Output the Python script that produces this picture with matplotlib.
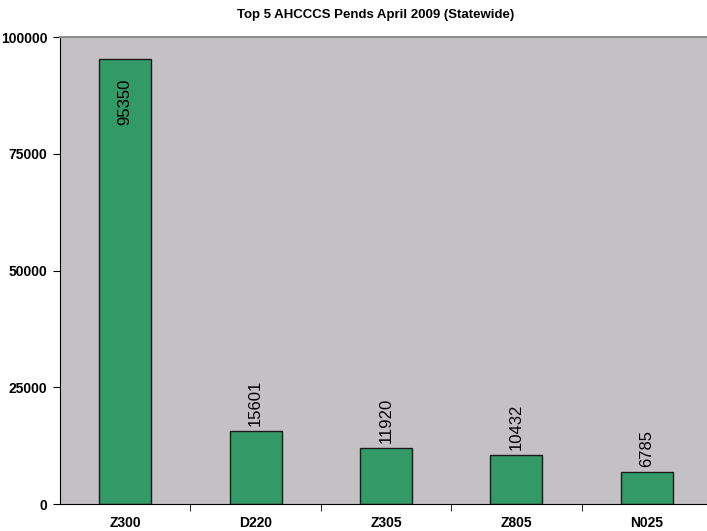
import matplotlib.pyplot as plt
import numpy as np

codes = ["Z300", "D220", "Z305", "Z805", "N025"]
pends = [95350, 15601, 11920, 10432, 6785]
yticks = [0, 25000, 50000, 75000, 100000]

plt.rcParams['font.family'] = ['Liberation Sans', 'DejaVu Sans']

fig = plt.figure(figsize=(7.07, 5.31), dpi=100)
ax = fig.add_axes([60 / 707, 27 / 531, 652 / 707, 467 / 531])
ax.set_facecolor('#c3c1c4')

x = np.arange(len(codes))
bars = ax.bar(x, pends, width=0.4, color='#339966', edgecolor='#1a1a1a', linewidth=1.0)

# value labels, rotated; the tall bar gets its label inside
for xi, v in zip(x, pends):
    if v > 50000:
        ax.text(xi, v - 4200, str(v), rotation=90, ha='center', va='top', fontsize=12)
    else:
        ax.text(xi, v + 1100, str(v), rotation=90, ha='center', va='bottom', fontsize=12)

ax.set_xlim(-0.5, len(codes) - 0.5)
ax.set_ylim(0, 100000)
ax.set_yticks(yticks)
ax.set_yticklabels([str(t) for t in yticks], fontweight='bold', fontsize=10)
ax.set_xticks(x)
ax.set_xticklabels(codes, fontweight='bold', fontsize=10)
ax.tick_params(axis='x', length=0, pad=8.5)
ax.set_xticks(x[:-1] + 0.5, minor=True)
ax.tick_params(axis='x', which='minor', length=5, direction='out')
ax.tick_params(axis='y', length=5, direction='out', pad=4)

ax.spines['top'].set_color('#8c8c8c')
ax.spines['top'].set_linewidth(1.5)
ax.spines['right'].set_visible(False)
ax.spines['left'].set_color('black')
ax.spines['bottom'].set_color('black')

fig.text(376 / 707, 1 - 15 / 531, "Top 5 AHCCCS Pends April 2009 (Statewide)",
         ha='center', va='center', fontsize=9.5, fontweight='bold')

fig.savefig("out.png", dpi=100)
